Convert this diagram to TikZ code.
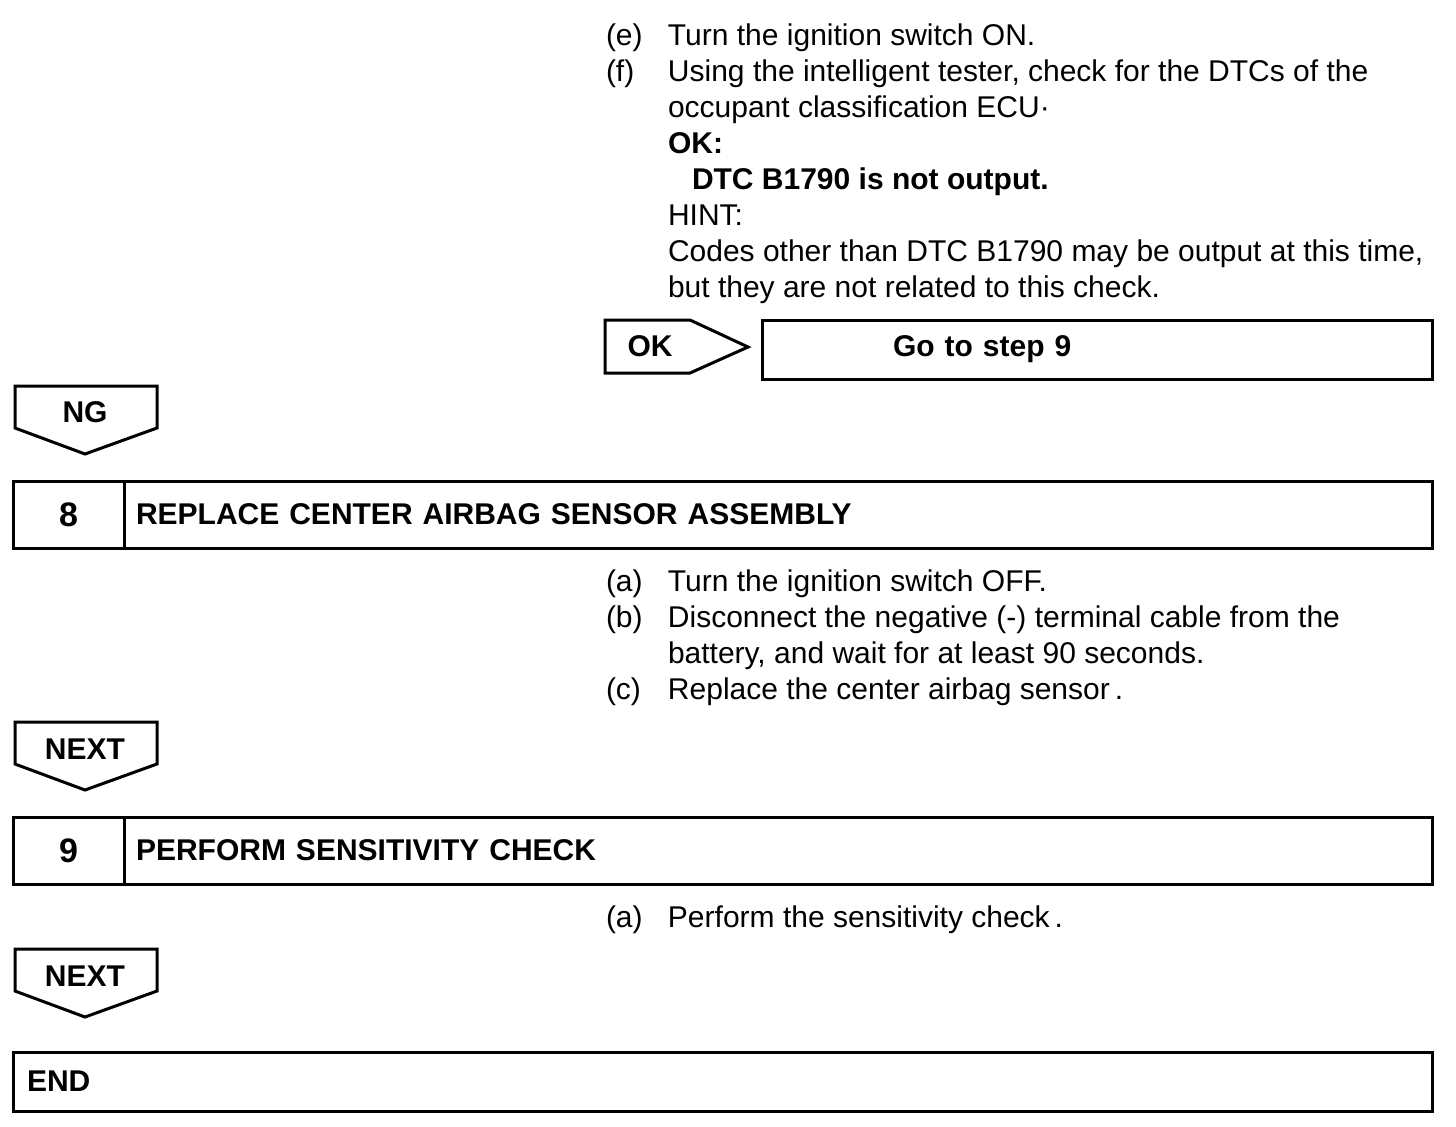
\documentclass[tikz,border=0pt]{standalone}
\usepackage{fontspec}
\setmainfont{Liberation Sans}
\usetikzlibrary{positioning}

\begin{document}
\begin{tikzpicture}[
  x=0.5pt, y=-0.5pt,
  line width=1.5pt,
  every node/.style={inner sep=0pt, outer sep=0pt},
  body/.style={anchor=north west, font=\fontsize{15}{18}\selectfont},
  tag/.style={font=\fontsize{15}{18}\selectfont\bfseries},
  flag/.style={draw, line join=miter},
  numcell/.style={draw, minimum width=55.5pt, minimum height=33.5pt, font=\fontsize{17}{20}\selectfont\bfseries},
  titlecell/.style={draw, minimum height=33.5pt, inner xsep=6pt, align=left, font=\fontsize{15}{18}\selectfont\bfseries}
]
\useasboundingbox (0,0) rectangle (1456,1126);

% step 7 (tail)
\node[body] (txt7) at (606,20) {\begin{tabular}{@{}p{31pt}@{}l@{}}
(e) & Turn the ignition switch ON.\\
(f) & Using the intelligent tester, check for the DTCs of the\\
    & occupant classification ECU·\\
    & \textbf{OK:}\\
    & \hspace{12pt}\textbf{DTC B1790 is not output.}\\
    & HINT:\\
    & Codes other than DTC B1790 may be output at this time,\\
    & but they are not related to this check.
\end{tabular}};

\draw[flag] (605,320) -- (690,320) -- (748,347) -- (690,373) -- (605,373) -- cycle;
\node[tag] (ok) at (650,346) {OK};
\node[titlecell, anchor=north west, minimum height=29.5pt, inner xsep=65.5pt, text width=204pt] (goto9) at (762,320) {Go to step 9};

\draw[flag] (15,386) -- (157,386) -- (157,428) -- (85,454) -- (15,428) -- cycle;
\node[tag] (ng) at (85,412) {NG};

% step 8
\node[numcell, anchor=north west] (num8) at (13,481) {8};
\node[titlecell, right=0pt of num8, text width=642pt] (title8) {REPLACE CENTER AIRBAG SENSOR ASSEMBLY};

\node[body] (txt8) at (606,566) {\begin{tabular}{@{}p{31pt}@{}l@{}}
(a) & Turn the ignition switch OFF.\\
(b) & Disconnect the negative (-) terminal cable from the\\
    & battery, and wait for at least 90 seconds.\\
(c) & Replace the center airbag sensor\,.
\end{tabular}};

\draw[flag] (15,722) -- (157,722) -- (157,764) -- (85,790) -- (15,764) -- cycle;
\node[tag] (next8) at (85,749) {NEXT};

% step 9
\node[numcell, anchor=north west] (num9) at (13,817) {9};
\node[titlecell, right=0pt of num9, text width=642pt] (title9) {PERFORM SENSITIVITY CHECK};

\node[body] (txt9) at (606,902) {\begin{tabular}{@{}p{31pt}@{}l@{}}
(a) & Perform the sensitivity check\,.
\end{tabular}};

\draw[flag] (15,949) -- (157,949) -- (157,991) -- (85,1017) -- (15,991) -- cycle;
\node[tag] (next9) at (85,976) {NEXT};

% end
\node[titlecell, anchor=north west, minimum height=29.5pt, inner xsep=7pt, text width=695.5pt] (endbox) at (13,1052) {END};
\end{tikzpicture}
\end{document}
